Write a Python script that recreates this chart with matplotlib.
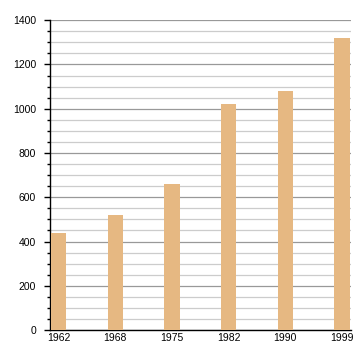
import matplotlib
matplotlib.use("Agg")
import matplotlib.pyplot as plt
import numpy as np
from matplotlib.ticker import MultipleLocator

years = ["1962", "1968", "1975", "1982", "1990", "1999"]
population = [437, 520, 662, 1020, 1080, 1320]

plt.rcParams["font.family"] = ["Liberation Sans", "DejaVu Sans"]

fig = plt.figure(figsize=(3.6, 3.6), dpi=100)
ax = fig.add_axes([0.139, 0.083, 0.836, 0.861])

x = np.arange(len(years))
ax.bar(x, population, width=0.27, color="#e6b882", zorder=3)

ax.set_xlim(-0.15, len(years) - 1 + 0.16)
ax.set_ylim(0, 1400)
ax.set_xticks(x)
ax.set_xticklabels(years)
ax.yaxis.set_major_locator(MultipleLocator(200))
ax.yaxis.set_minor_locator(MultipleLocator(50))

ax.grid(True, axis="y", which="major", color="#999999", lw=0.9, zorder=0)
ax.grid(True, axis="y", which="minor", color="#cccccc", lw=0.9, zorder=0)

for side in ("top", "right"):
    ax.spines[side].set_visible(False)
ax.spines["left"].set_linewidth(1.0)
ax.spines["bottom"].set_linewidth(1.0)

ax.tick_params(axis="y", which="major", length=4, width=1, labelsize=7.5, pad=6)
ax.tick_params(axis="y", which="minor", length=2.5, width=1)
ax.tick_params(axis="x", length=0, labelsize=7.5, pad=2)

fig.savefig("out.png", dpi=100)
